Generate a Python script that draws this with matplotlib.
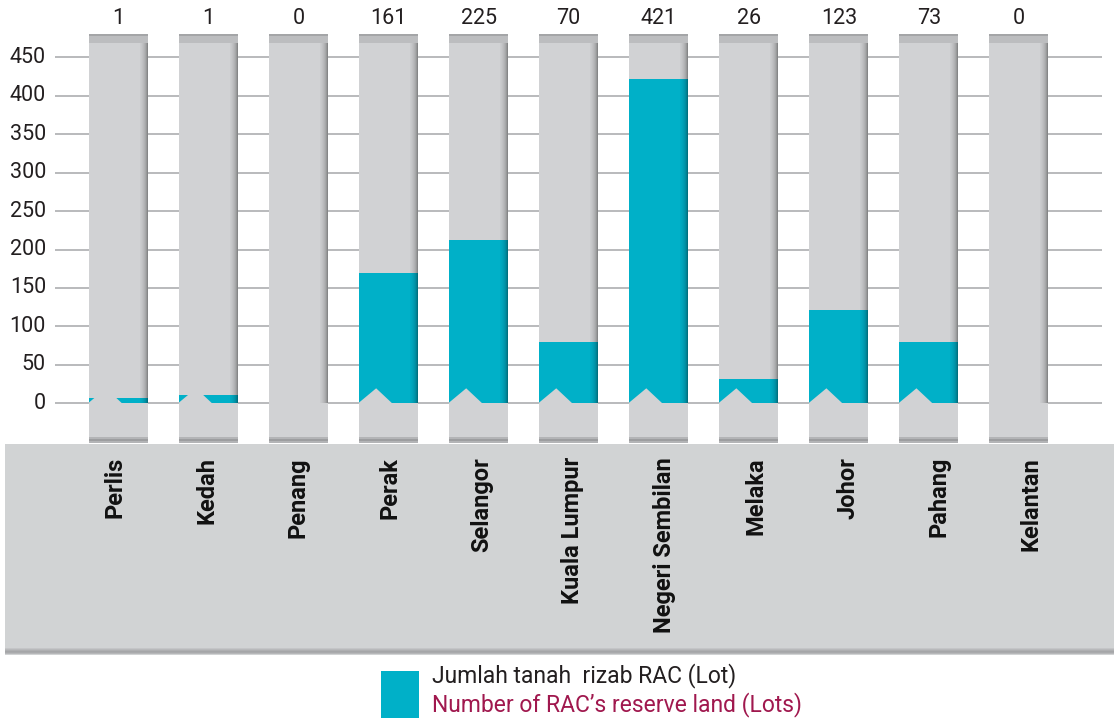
import matplotlib
matplotlib.use("Agg")
import matplotlib.pyplot as plt
from matplotlib.patches import Rectangle, Polygon

# ---------------- data ----------------
states = ["Perlis", "Kedah", "Penang", "Perak", "Selangor", "Kuala Lumpur",
          "Negeri Sembilan", "Melaka", "Johor", "Pahang", "Kelantan"]
value_labels = [1, 1, 0, 161, 225, 70, 421, 26, 123, 73, 0]
bar_heights = [7, 11, 0, 170, 212, 80, 422, 31, 121, 80, 0]
y_ticks = [0, 50, 100, 150, 200, 250, 300, 350, 400, 450]
legend_line1 = "Jumlah tanah  rizab RAC (Lot)"
legend_line2 = "Number of RAC\u2019s reserve land (Lots)"

# ---------------- style ----------------
TEAL = "#00B0C8"
COL_GRAY = "#D1D2D4"
BAND_GRAY = "#D1D3D4"
GRID = "#B3B4B6"
TXT = "#231F20"
RED = "#A0184E"
plt.rcParams["font.family"] = ["Roboto", "DejaVu Sans"]

W, H = 1114, 718
fig = plt.figure(figsize=(W / 100, H / 100), dpi=100)
ax = fig.add_axes([0, 0, 1, 1])
ax.set_axis_off()

# pixel layout -> data mapping
y0px, ppu = 403.3, 346.0 / 450.0
c0px, step = 118.5, 90.05
ax.set_xlim((0 - c0px) / step, (W - c0px) / step)
ax.set_ylim((y0px - H) / ppu, y0px / ppu)

def dx(px):  # pixel distance -> x data distance
    return px / step

def dy(px):
    return px / ppu

def xpx(px):
    return (px - c0px) / step

def ypx(py):
    return (y0px - py) / ppu

bw = dx(59)
col_top = ypx(34)
col_bot = ypx(443)
x = list(range(len(states)))

# bottom label band (axes-fraction coords, behind the labels)
def frect(x0, y0, x1, y1, **kw):
    ax.add_patch(Rectangle((x0 / W, 1 - y1 / H), (x1 - x0) / W, (y1 - y0) / H,
                           transform=ax.transAxes, **kw))

frect(5, 444, W, 655, facecolor=BAND_GRAY, edgecolor="none", zorder=0.5)
for k, c in enumerate(["#C4C5C7", "#B8B9BB", "#AEAFB1", "#A5A6A8", "#A9AAAC", "#B6B7B9"]):
    frect(5, 648 + k, W, 649 + k, facecolor=c, edgecolor="none", zorder=0.6)

# gridlines
ax.hlines(y_ticks, xpx(55), xpx(1102), colors=GRID, linewidth=1.3, zorder=1)
for t in y_ticks:
    ax.text(xpx(46), t, str(t), ha="right", va="center", fontsize=15.5, color=TXT)

# background columns
ax.bar(x, [col_top - col_bot] * len(x), bottom=col_bot, width=bw,
       color=COL_GRAY, zorder=2, linewidth=0)
# teal bars
ax.bar(x, bar_heights, width=bw, color=TEAL, zorder=3, linewidth=0)

for i in x:
    left = i - bw / 2
    right = i + bw / 2
    # notch triangle at the base
    if bar_heights[i] > 0:
        ax.add_patch(Polygon([(left - dx(1), 0), (left + dx(17), dy(15)), (left + dx(33), 0)],
                             closed=True, facecolor=COL_GRAY, edgecolor="none", zorder=4))
    # right-edge shading (above zero)
    alphas = [0.03, 0.05, 0.08, 0.11, 0.15, 0.2, 0.27, 0.36]
    for k, a in enumerate(alphas):
        ax.add_patch(Rectangle((right - dx(8 - k), 0), dx(1), col_top,
                               facecolor="black", alpha=a, edgecolor="none", zorder=5))
    # top cap
    ax.add_patch(Rectangle((left, ypx(43)), bw, dy(9), facecolor="#BCBDBF",
                           edgecolor="none", zorder=6))
    ax.add_patch(Rectangle((left, ypx(36)), bw, dy(2), facecolor="#A4A5A7",
                           edgecolor="none", zorder=6))
    # bottom cap
    ax.add_patch(Rectangle((left, col_bot), bw, dy(6), facecolor="#B3B4B6",
                           edgecolor="none", zorder=6))
    ax.add_patch(Rectangle((left, col_bot + dy(2)), bw, dy(2), facecolor="#9C9D9F",
                           edgecolor="none", zorder=6))
    # value label
    ax.text(i, ypx(18.5), str(value_labels[i]), ha="center", va="center",
            fontsize=15.5, color=TXT)
    # category label (label band spacing is slightly wider than the columns)
    ax.text(xpx(115 + 91.6 * i), ypx(457), states[i], rotation=90, ha="center", va="top",
            fontsize=17, fontweight="bold", color="#111111", zorder=7)

# legend
frect(381, 671, 419, 718, facecolor=TEAL, edgecolor="none", zorder=1)
ax.text(432 / W, 1 - 676 / H, legend_line1, ha="left", va="center",
        fontsize=16.5, color=TXT, transform=ax.transAxes)
ax.text(432 / W, 1 - 705 / H, legend_line2, ha="left", va="center",
        fontsize=16.5, color=RED, transform=ax.transAxes)

fig.savefig("out.png", dpi=100)
